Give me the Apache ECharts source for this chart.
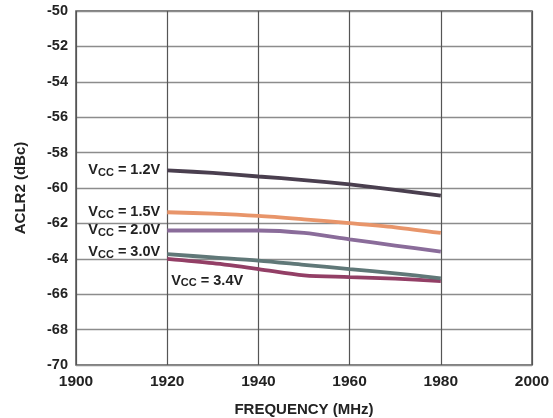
<!DOCTYPE html>
<html>
<head>
<meta charset="utf-8">
<script src="https://cdn.jsdelivr.net/npm/echarts@6/dist/echarts.min.js"></script>
<style>html,body{margin:0;padding:0;background:#fff;}#c{width:553px;height:418px;}</style>
</head>
<body>
<div id="c"></div>
<script>
const freqs = [1920, 1930, 1940, 1950, 1960, 1970, 1980];
const vcc12 = [-59.0, -59.15, -59.35, -59.55, -59.8, -60.1, -60.43];
const vcc15 = [-61.37, -61.45, -61.58, -61.77, -61.98, -62.22, -62.54];
const vcc20 = [-62.4, -62.4, -62.4, -62.54, -62.9, -63.25, -63.6];
const vcc30 = [-63.74, -63.92, -64.1, -64.34, -64.58, -64.82, -65.1];
const vcc34 = [-64.0, -64.25, -64.58, -64.94, -65.03, -65.12, -65.26];
const seriesNames = ['1.2V', '1.5V', '2.0V', '3.0V', '3.4V'];
const seriesValues = [vcc12, vcc15, vcc20, vcc30, vcc34];
const colors = ['#4a3f4f', '#e8956a', '#8a6c9a', '#607878', '#933f66'];

const FONT = '"Liberation Sans", Arial, Helvetica, sans-serif';
const rich = {
  a: {fontFamily: FONT, fontWeight: 'bold', fontSize: 14.5, color: '#222', lineHeight: 16},
  b: {fontFamily: FONT, fontWeight: 'bold', fontSize: 11, color: '#222', lineHeight: 10, verticalAlign: 'bottom'}
};
const labelPos = [
  {position: 'left', distance: 7, offset: [0, 0]},
  {position: 'left', distance: 7, offset: [0, 0]},
  {position: 'left', distance: 7, offset: [0, 0]},
  {position: 'left', distance: 7, offset: [0, -2]},
  {position: 'right', distance: 4, offset: [0, 22]}
];

const series = seriesNames.map((name, i) => ({
  name: 'VCC = ' + name,
  type: 'line',
  smooth: 0.3,
  symbol: 'circle',
  symbolSize: 0,
  showSymbol: true,
  lineStyle: {color: colors[i], width: 3.8},
  itemStyle: {color: colors[i]},
  label: {show: false},
  data: freqs.map((f, j) => {
    const item = {value: [f, seriesValues[i][j]]};
    if (j === 0) {
      item.label = Object.assign({
        show: true,
        formatter: '{a|V}{b|CC}{a| = ' + name + '}',
        rich: rich
      }, labelPos[i]);
    }
    return item;
  }),
  z: 5 - i
}));

const chart = echarts.init(document.getElementById('c'), null, {renderer: 'canvas'});
chart.setOption({
  animation: false,
  backgroundColor: '#fff',
  grid: {left: 76, right: 21, top: 11, bottom: 53, show: true, borderColor: '#555', borderWidth: 1.5, backgroundColor: 'transparent', outerBoundsMode: 'none', containLabel: false},
  xAxis: {
    type: 'value', min: 1900, max: 2000, interval: 20,
    name: 'FREQUENCY (MHz)', nameLocation: 'middle', nameGap: 37,
    nameTextStyle: {fontFamily: FONT, fontWeight: 'bold', fontSize: 15, color: '#222'},
    axisLine: {show: false},
    axisTick: {show: false},
    axisLabel: {fontFamily: FONT, fontWeight: 'bold', fontSize: 15.5, color: '#222', margin: 9, formatter: v => String(v)},
    splitLine: {show: true, lineStyle: {color: '#555', width: 1.2}}
  },
  yAxis: {
    type: 'value', min: -70, max: -50, interval: 2,
    name: 'ACLR2 (dBc)', nameLocation: 'middle', nameGap: 48, nameRotate: 90,
    nameTextStyle: {fontFamily: FONT, fontWeight: 'bold', fontSize: 15, color: '#222'},
    axisLine: {show: false},
    axisTick: {show: false},
    axisLabel: {fontFamily: FONT, fontWeight: 'bold', fontSize: 14.5, color: '#222', margin: 8, formatter: v => String(v)},
    splitLine: {show: true, lineStyle: {color: '#8c8c8c', width: 1.3}}
  },
  series: series
});
</script>
</body>
</html>
